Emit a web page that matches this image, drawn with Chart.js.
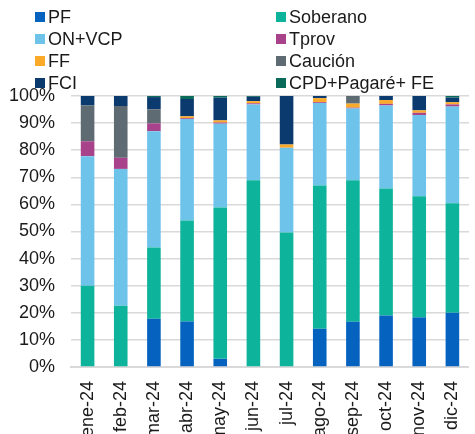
<!DOCTYPE html>
<html>
<head>
<meta charset="utf-8">
<script src="https://cdn.jsdelivr.net/npm/chart.js@4"></script>
<style>
  html, body { margin: 0; padding: 0; background: #fff; overflow: hidden; }
  #wrap { position: relative; width: 480px; height: 460px; }
  #legend {
    position: absolute; left: 35px; top: 6px;
    display: grid; grid-template-columns: 241px 200px; row-gap: 0;
    font-family: 'Liberation Sans', Arial, sans-serif; font-size: 18px; color: #1a1a1a;
  }
  .li { display: flex; align-items: center; height: 22px; white-space: nowrap; }
  .sw { width: 10px; height: 10px; margin-right: 3px; flex: none; }
</style>
</head>
<body>
<div id="wrap">
  <canvas id="chart" width="480" height="460"></canvas>
  <div id="legend"></div>
</div>
<script>
// ═══════════════════════════════════════════
// DATOS
// ═══════════════════════════════════════════
const meses = ['ene-24', 'feb-24', 'mar-24', 'abr-24', 'may-24', 'jun-24', 'jul-24', 'ago-24', 'sep-24', 'oct-24', 'nov-24', 'dic-24'];
const yTicks = ['0%', '10%', '20%', '30%', '40%', '50%', '60%', '70%', '80%', '90%', '100%'];

const pf       = [0,    0,    17.8, 16.8, 3.0,  0,    0,    14.1, 16.7, 19.0, 18.3, 20.0];
const soberano = [30.0, 22.6, 26.3, 37.3, 55.9, 68.9, 49.6, 52.9, 52.2, 46.9, 44.7, 40.4];
const onVcp    = [47.8, 50.5, 42.9, 37.4, 30.9, 28.0, 31.3, 30.4, 26.5, 30.6, 30.0, 35.7];
const tprov    = [5.5,  4.1,  2.9,  0.3,  0.4,  0.4,  0,    0.3,  0.3,  0.6,  0.8,  0.8];
const ff       = [0,    0,    0,    0.7,  0.8,  0.8,  1.2,  1.5,  1.5,  1.4,  0.9,  0.8];
const caucion  = [13.2, 19.1, 5.2,  0,    0,    0,    0,    0,    2.8,  0,    0,    0];
const fci      = [3.5,  3.7,  4.5,  6.4,  8.4,  1.6,  17.9, 0.8,  0,    1.5,  5.3,  1.7];
const cpd      = [0,    0,    0.4,  1.1,  0.6,  0.3,  0,    0,    0,    0,    0,    0.6];

const series = [
  { label: 'PF',               data: pf,       color: '#0563BF' },
  { label: 'Soberano',         data: soberano, color: '#0DB39A' },
  { label: 'ON+VCP',           data: onVcp,    color: '#6EC3EB' },
  { label: 'Tprov',            data: tprov,    color: '#A8428A' },
  { label: 'FF',               data: ff,       color: '#FBA928' },
  { label: 'Caución',          data: caucion,  color: '#5F6B73' },
  { label: 'FCI',              data: fci,      color: '#0A3A6E' },
  { label: 'CPD+Pagaré+ FE',   data: cpd,      color: '#0B6B5B' }
];

const FONT = "'Liberation Sans', Arial, sans-serif";

// ── Leyenda en dos columnas ──
document.getElementById('legend').innerHTML = series.map(s =>
  `<div class="li"><span class="sw" style="background:${s.color}"></span>${s.label}</div>`
).join('');

// ═══════════════════════════════════════════
// GRÁFICO
// ═══════════════════════════════════════════
new Chart(document.getElementById('chart'), {
  type: 'bar',
  data: {
    labels: meses,
    datasets: series.map(s => ({
      label: s.label,
      data: s.data,
      backgroundColor: s.color,
      borderWidth: 0,
      barPercentage: 0.41,
      categoryPercentage: 1
    }))
  },
  options: {
    responsive: false,
    animation: false,
    layout: { padding: { top: 96, right: 0, left: 0, bottom: 0 } },
    plugins: { legend: { display: false }, tooltip: { enabled: false } },
    scales: {
      x: {
        stacked: true,
        grid: { display: false },
        border: { display: true, color: '#d9d9d9', width: 2 },
        ticks: {
          font: { family: FONT, size: 18 },
          color: '#1a1a1a',
          minRotation: 90, maxRotation: 90,
          autoSkip: false, padding: 6
        },
        afterFit: s => { s.height = 93; }
      },
      y: {
        stacked: true,
        min: 0, max: 100,
        grid: { color: '#d9d9d9', lineWidth: 1.5, drawTicks: false },
        border: { display: false },
        ticks: {
          stepSize: 10,
          font: { family: FONT, size: 18 },
          color: '#1a1a1a',
          padding: 16,
          callback: (v) => yTicks[Math.round(v / 10)]
        },
        afterFit: s => { s.width = 71; }
      }
    }
  }
});
</script>
</body>
</html>
